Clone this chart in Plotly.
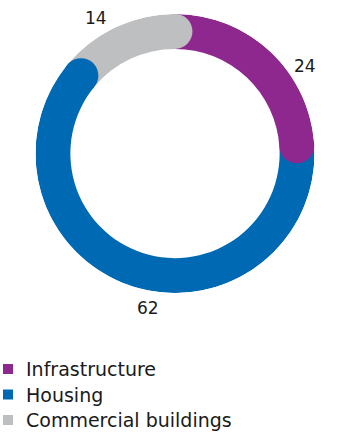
import math
import plotly.graph_objects as go

# Share of order intake by segment (%)
categories = ["Infrastructure", "Housing", "Commercial buildings"]
values = [24, 62, 14]
colors = ["#8E288E", "#0069B4", "#BEBFC1"]
# small angular nudges (deg) for the outside value labels
label_shift = [13, -8, -5]

W, H = 341, 433
HOLE = 0.75
cx, cy, R = 175, 153.5, 139.5  # ring centre / outer radius in px
LABEL_R = 1.125
FONT = "DejaVu Sans"
TEXT_COL = "#1A1A1A"

fig = go.Figure()

total = sum(values)
start = 0.0
ends, mids = [], []
for cat, val, col in zip(categories, values, colors):
    span = 360.0 * val / total
    mids.append(start + span / 2)
    ends.append(start + span)
    fig.add_trace(go.Barpolar(
        r=[1 - HOLE], base=[HOLE], theta=[start + span / 2], width=[span],
        marker=dict(color=col, line=dict(width=0)),
        name=cat, showlegend=False, hoverinfo="skip",
    ))
    start += span

# rounded caps at the end of every segment
cap_px = (1 - HOLE) * R
for end, col in zip(ends, colors):
    fig.add_trace(go.Scatterpolar(
        r=[(1 + HOLE) / 2], theta=[end], mode="markers",
        marker=dict(size=cap_px, color=col, line=dict(width=0)),
        showlegend=False, hoverinfo="skip", cliponaxis=False,
    ))

# value labels outside the ring
annotations = []
for val, mid, shift in zip(values, mids, label_shift):
    a = math.radians(mid + shift)
    px = cx + LABEL_R * R * math.sin(a)
    py = cy - LABEL_R * R * math.cos(a)
    annotations.append(dict(
        x=px / W, y=1 - py / H, xref="paper", yref="paper",
        text=str(val), showarrow=False, xanchor="center", yanchor="middle",
        font=dict(size=17, color=TEXT_COL, family=FONT),
    ))

# legend rows below the ring
shapes = []
leg_top, leg_step, sq = 369, 25.5, 10
for i, (cat, col) in enumerate(zip(categories, colors)):
    yc = leg_top + i * leg_step
    shapes.append(dict(
        type="rect", xref="paper", yref="paper",
        x0=3 / W, x1=(3 + sq) / W,
        y0=1 - (yc + sq / 2) / H, y1=1 - (yc - sq / 2) / H,
        fillcolor=col, line=dict(width=0),
    ))
    annotations.append(dict(
        x=24 / W, y=1 - yc / H, xref="paper", yref="paper",
        text=cat, showarrow=False, xanchor="left", yanchor="middle",
        font=dict(size=19, color=TEXT_COL, family=FONT),
    ))

fig.update_layout(
    width=W, height=H,
    margin=dict(l=0, r=0, t=0, b=0),
    paper_bgcolor="white", plot_bgcolor="white",
    polar=dict(
        domain=dict(x=[(cx - R) / W, (cx + R) / W],
                    y=[(H - cy - R) / H, (H - cy + R) / H]),
        bgcolor="rgba(0,0,0,0)",
        radialaxis=dict(visible=False, range=[0, 1]),
        angularaxis=dict(visible=False, rotation=90, direction="clockwise"),
        bargap=0,
    ),
    annotations=annotations,
    shapes=shapes,
    showlegend=False,
)

fig.write_html("out.html")
